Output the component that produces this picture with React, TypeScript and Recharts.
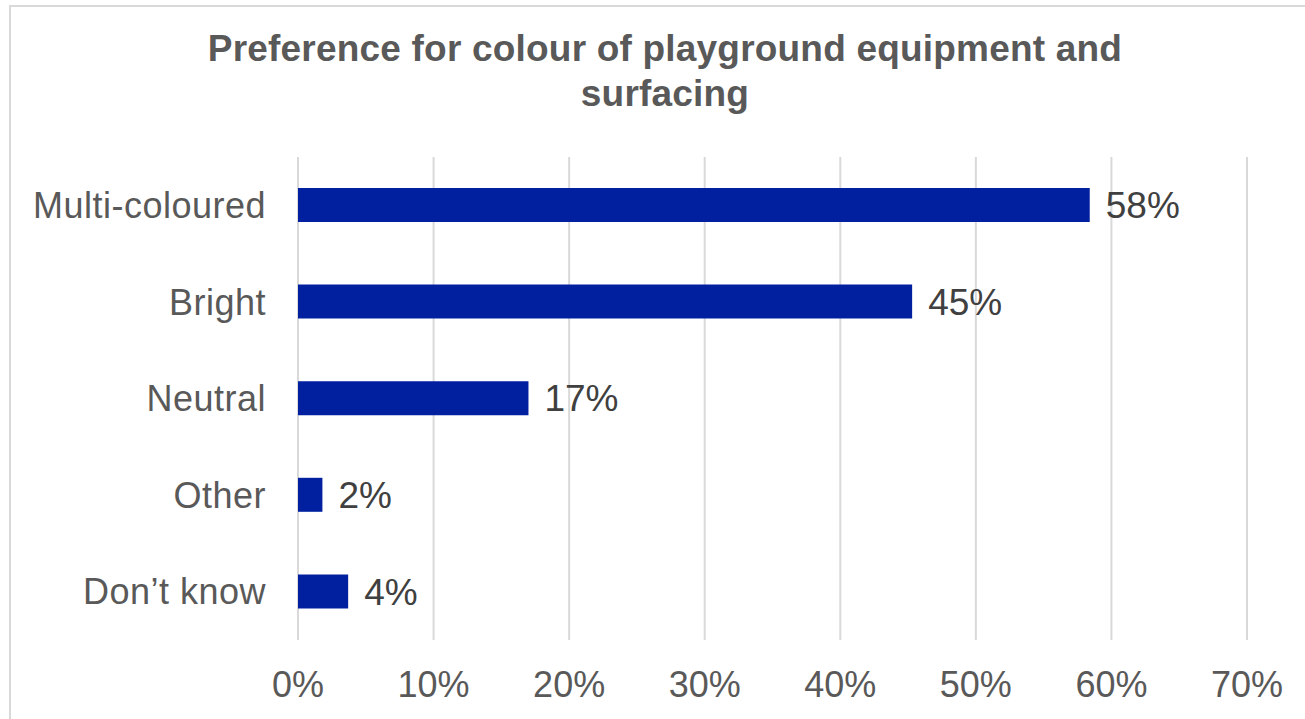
import { BarChart, Bar, XAxis, YAxis, CartesianGrid, LabelList } from "recharts"

const categories = ["Multi-coloured", "Bright", "Neutral", "Other", "Don\u2019t know"]
const shares = [58.4, 45.3, 17.0, 1.8, 3.7]
const xTicks = [0, 10, 20, 30, 40, 50, 60, 70]
const titleLines = ["Preference for colour of playground equipment and", "surfacing"]

const data = categories.map((name, i) => ({ name, value: shares[i] }))

const FONT = "'Liberation Sans', Arial, sans-serif"
const GRID = "#d9d9d9"
const TEXT = "#595959"
const BAR = "#00209f"

export default function App() {
  return (
    <div
      style={{
        position: "fixed",
        left: 0,
        top: 0,
        width: 1305,
        height: 719,
        overflow: "hidden",
        background: "#fff",
        fontFamily: FONT,
      }}
    >
      <div
        style={{
          position: "absolute",
          left: 9,
          top: 5,
          width: 1330,
          height: 740,
          border: `2px solid ${GRID}`,
          boxSizing: "border-box",
        }}
      />
      <div
        style={{
          position: "absolute",
          left: 0,
          top: 26,
          width: 1330,
          textAlign: "center",
          color: TEXT,
          fontWeight: "bold",
          fontSize: 37,
          lineHeight: "45px",
          letterSpacing: 0.2,
        }}
      >
        {titleLines.map((t) => (
          <div key={t}>{t}</div>
        ))}
      </div>
      <div style={{ position: "absolute", left: 0, top: 0 }}>
        <BarChart
          width={1305}
          height={719}
          data={data}
          layout="vertical"
          margin={{ top: 157, right: 58, bottom: 19, left: 0 }}
        >
          <CartesianGrid horizontal={false} stroke={GRID} strokeWidth={2} />
          <XAxis
            type="number"
            domain={[0, 70]}
            ticks={xTicks}
            tickFormatter={(v) => `${v}%`}
            axisLine={false}
            tickLine={false}
            tickSize={0}
            tickMargin={31}
            height={60}
            interval={0}
            tick={{ fill: TEXT, fontSize: 36, fontFamily: FONT }}
          />
          <YAxis
            type="category"
            dataKey="name"
            width={298}
            axisLine={false}
            tickLine={false}
            tickSize={0}
            tickMargin={32}
            interval={0}
            tick={{ fill: TEXT, fontSize: 36, fontFamily: FONT, letterSpacing: 0.5 }}
          />
          <Bar dataKey="value" fill={BAR} barSize={34} isAnimationActive={false}>
            <LabelList
              dataKey="value"
              position="right"
              offset={16}
              formatter={(v: number) => `${Math.round(v)}%`}
              fill="#404040"
              fontSize={37}
              fontFamily={FONT}
            />
          </Bar>
        </BarChart>
      </div>
    </div>
  )
}
